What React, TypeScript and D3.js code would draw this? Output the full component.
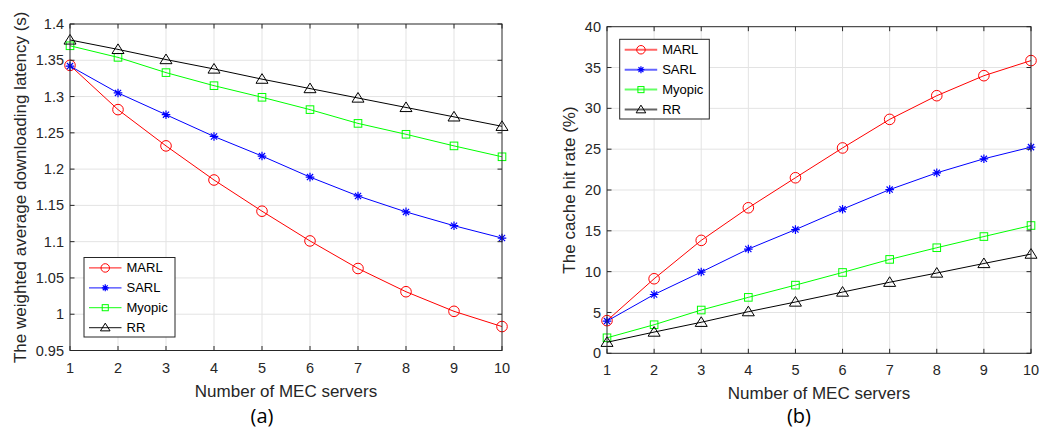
import React from "react";
import * as d3 from "d3";

const servers = [1, 2, 3, 4, 5, 6, 7, 8, 9, 10];

// (a) weighted average downloading latency (s)
const latMARL = [1.343, 1.282, 1.232, 1.185, 1.142, 1.101, 1.063, 1.031, 1.004, 0.983];
const latSARL = [1.342, 1.305, 1.275, 1.245, 1.218, 1.189, 1.163, 1.141, 1.122, 1.105];
const latMyopic = [1.370, 1.354, 1.333, 1.315, 1.299, 1.282, 1.263, 1.248, 1.232, 1.217];
const latRR = [1.378, 1.365, 1.351, 1.338, 1.324, 1.311, 1.298, 1.285, 1.272, 1.259];

// (b) cache hit rate (%)
const hitMARL = [4.0, 9.13, 13.83, 17.82, 21.5, 25.15, 28.65, 31.55, 34.0, 35.85];
const hitSARL = [3.95, 7.2, 9.95, 12.77, 15.15, 17.65, 20.05, 22.1, 23.82, 25.25];
const hitMyopic = [1.9, 3.5, 5.3, 6.85, 8.35, 9.9, 11.5, 12.93, 14.3, 15.65];
const hitRR = [1.35, 2.6, 3.8, 5.1, 6.28, 7.5, 8.7, 9.83, 11.0, 12.15];

const latTicks = [0.95, 1, 1.05, 1.1, 1.15, 1.2, 1.25, 1.3, 1.35, 1.4];
const hitTicks = [0, 5, 10, 15, 20, 25, 30, 35, 40];

const seriesNames = ["MARL", "SARL", "Myopic", "RR"];
const seriesColors = ["#ff0000", "#0000ff", "#00ff00", "#000000"];
const seriesMarkers = ["circle", "star", "square", "triangle"];

const FONT = "'Liberation Sans', Arial, sans-serif";
const AXIS = "#262626";

function Marker({ type, x, y, color, s = 1 }: { type: string; x: number; y: number; color: string; s?: number }) {
  if (type === "circle") return <circle cx={x} cy={y} r={5.3 * s} fill="none" stroke={color} strokeWidth={1} />;
  if (type === "square") return <rect x={x - 3.8 * s} y={y - 3.8 * s} width={7.6 * s} height={7.6 * s} fill="none" stroke={color} strokeWidth={1} />;
  if (type === "triangle") {
    const h = 5.5 * s;
    const w = 6 * s;
    return <path d={`M${x},${y - h}L${x + w},${y + h * 0.75}L${x - w},${y + h * 0.75}Z`} fill="none" stroke={color} strokeWidth={1} />;
  }
  const r = 4.3 * s;
  const d: string[] = [];
  d.push(`M${x - r},${y}L${x + r},${y}`);
  d.push(`M${x},${y - r}L${x},${y + r}`);
  const q = r * 0.72;
  d.push(`M${x - q},${y - q}L${x + q},${y + q}`);
  d.push(`M${x - q},${y + q}L${x + q},${y - q}`);
  return <path d={d.join("")} stroke={color} strokeWidth={1.2} fill="none" />;
}

type PanelProps = {
  left: number; right: number; top: number; bottom: number;
  domain: [number, number]; ticks: number[]; data: number[][];
  yLabel: string; yLabelX: number; legend: { x: number; y: number; w: number; h: number };
  legendLineW: number; legendOpacity: number; caption: string; captionX: number;
};

function Panel(p: PanelProps) {
  const x = d3.scaleLinear().domain([1, 10]).range([p.left, p.right]);
  const y = d3.scaleLinear().domain(p.domain).range([p.bottom, p.top]);
  const line = d3.line<number>().x((_, i) => x(servers[i])).y((v) => y(v));
  const tl = 4.5;
  const cx = (p.left + p.right) / 2;
  const cy = (p.top + p.bottom) / 2;
  const rowH = p.legend.h / 4;
  return (
    <g fontFamily={FONT}>
      {servers.slice(1, -1).map((s) => (
        <line key={"gx" + s} x1={x(s)} x2={x(s)} y1={p.top} y2={p.bottom} stroke="#e3e3e3" strokeWidth={1} />
      ))}
      {p.ticks.slice(1, -1).map((t) => (
        <line key={"gy" + t} x1={p.left} x2={p.right} y1={y(t)} y2={y(t)} stroke="#e3e3e3" strokeWidth={1} />
      ))}
      {p.data.map((vals, si) => (
        <g key={si}>
          <path d={line(vals) || ""} fill="none" stroke={seriesColors[si]} strokeWidth={1} />
          {vals.map((v, i) => (
            <Marker key={i} type={seriesMarkers[si]} x={x(servers[i])} y={y(v)} color={seriesColors[si]} />
          ))}
        </g>
      ))}
      <rect x={p.left} y={p.top} width={p.right - p.left} height={p.bottom - p.top} fill="none" stroke={AXIS} strokeWidth={1} />
      {servers.map((s) => (
        <g key={"tx" + s}>
          <line x1={x(s)} x2={x(s)} y1={p.bottom} y2={p.bottom - tl} stroke={AXIS} />
          <line x1={x(s)} x2={x(s)} y1={p.top} y2={p.top + tl} stroke={AXIS} />
          <text x={x(s)} y={p.bottom + 22} textAnchor="middle" fontSize={14.5} fill={AXIS}>{s}</text>
        </g>
      ))}
      {p.ticks.map((t) => (
        <g key={"ty" + t}>
          <line x1={p.left} x2={p.left + tl} y1={y(t)} y2={y(t)} stroke={AXIS} />
          <line x1={p.right} x2={p.right - tl} y1={y(t)} y2={y(t)} stroke={AXIS} />
          <text x={p.left - 6} y={y(t)} dy="0.35em" textAnchor="end" fontSize={14.5} fill={AXIS}>{String(t)}</text>
        </g>
      ))}
      <text x={cx} y={p.bottom + 46} textAnchor="middle" fontSize={17} fill={AXIS}>Number of MEC servers</text>
      <text transform={`translate(${p.yLabelX},${cy}) rotate(-90)`} textAnchor="middle" fontSize={17} fill={AXIS}>{p.yLabel}</text>
      <text x={p.captionX} y={423} textAnchor="middle" fontSize={20} fill="#000" fontFamily="'Open Sans', sans-serif">{p.caption}</text>
      <rect x={p.legend.x} y={p.legend.y} width={p.legend.w} height={p.legend.h} fill="#fff" stroke={AXIS} strokeWidth={1} />
      {seriesNames.map((n, i) => {
        const ly = p.legend.y + rowH * (i + 0.5) + 0.5;
        const lx0 = p.legend.x + 5;
        const lx1 = p.legend.x + 37.5;
        return (
          <g key={n}>
            <line x1={lx0} x2={lx1} y1={ly} y2={ly} stroke={seriesColors[i]} strokeWidth={p.legendLineW} opacity={p.legendOpacity} />
            <Marker type={seriesMarkers[i]} x={(lx0 + lx1) / 2} y={ly} color={seriesColors[i]} s={0.8} />
            <text x={p.legend.x + 42.5} y={ly} dy="0.35em" fontSize={13} fill="#000">{n}</text>
          </g>
        );
      })}
    </g>
  );
}

export default function App() {
  return (
    <svg width={1051} height={431} style={{ position: "absolute", left: 0, top: 0, background: "#fff" }}>
      <rect width={1051} height={431} fill="#fff" />
      <Panel
        left={70} right={502} top={24} bottom={350.5}
        domain={[0.95, 1.4]} ticks={latTicks}
        data={[latMARL, latSARL, latMyopic, latRR]}
        yLabel="The weighted average downloading latency (s)" yLabelX={26}
        legend={{ x: 84, y: 257.5, w: 91, h: 79.5 }}
        legendLineW={1.3} legendOpacity={0.75} caption="(a)" captionX={262}
      />
      <Panel
        left={607} right={1031} top={26.7} bottom={353.3}
        domain={[0, 40]} ticks={hitTicks}
        data={[hitMARL, hitSARL, hitMyopic, hitRR]}
        yLabel="The cache hit rate (%)" yLabelX={575}
        legend={{ x: 619.7, y: 39.3, w: 89.6, h: 79.7 }}
        legendLineW={2} legendOpacity={0.6} caption="(b)" captionX={799}
      />
    </svg>
  );
}
